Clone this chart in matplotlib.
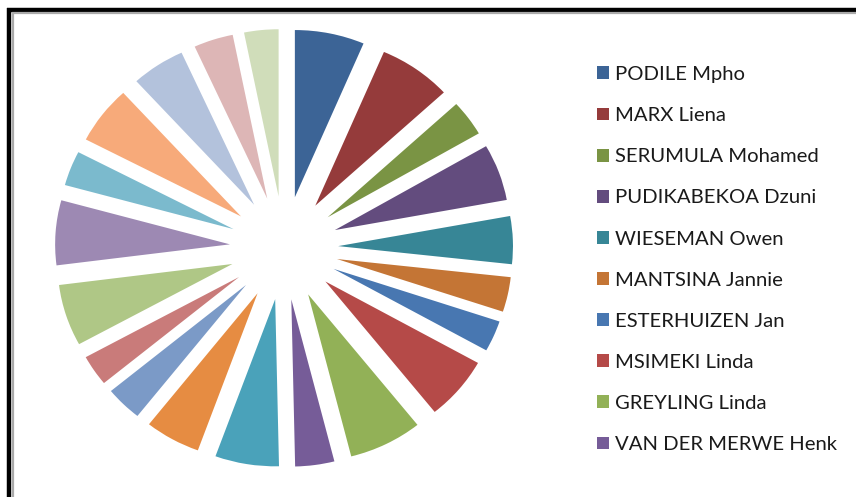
import matplotlib.pyplot as plt
from matplotlib.lines import Line2D

# slice sizes (degrees of the circle), clockwise from 12 o'clock
names = ['PODILE Mpho', 'MARX Liena', 'SERUMULA Mohamed', 'PUDIKABEKOA Dzuni',
         'WIESEMAN Owen', 'MANTSINA Jannie', 'ESTERHUIZEN Jan', 'MSIMEKI Linda',
         'GREYLING Linda', 'VAN DER MERWE Henk',
         'Person 11', 'Person 12', 'Person 13', 'Person 14', 'Person 15',
         'Person 16', 'Person 17', 'Person 18', 'Person 19', 'Person 20', 'Person 21']
values = [23.1, 24.2, 12.5, 19.7, 16.6, 12.1, 10.8, 22.1, 24.4, 13.0,
          21.2, 18.4, 12.2, 10.7, 21.4, 22.5, 12.1, 20.2, 17.8, 13.1, 11.4]
colors = ['#3C6496', '#953B3B', '#7A9444', '#634C7E', '#378696', '#C47535',
          '#4877B1', '#B54A48', '#92B157', '#765C98', '#4AA2BA', '#E68C42',
          '#7B9AC7', '#C97B7A', '#AFC786', '#9D89B3', '#7BBACD', '#F7AA7A',
          '#B3C2DC', '#DDB6B6', '#D0DDBA']
n_legend = 10   # legend in the original is cut off after 10 entries

W, H = 856, 497
fig = plt.figure(figsize=(W / 100, H / 100), dpi=100)

# pie centre (284, 248) px from top-left, slightly wider than tall
cx, cy, rx, ry = 284, 248, 229, 219
ax = fig.add_axes([(cx - rx) / W, (H - cy - ry) / H, 2 * rx / W, 2 * ry / H])
expl = 0.31
wedges, _ = ax.pie(values, colors=colors, startangle=90, counterclock=False,
                   explode=[expl] * len(values),
                   wedgeprops=dict(linewidth=0))
ax.set_aspect('auto')
ax.set_xlim(-1 - expl, 1 + expl)
ax.set_ylim(-1 - expl, 1 + expl)

leg = fig.legend(wedges[:n_legend], names[:n_legend], loc='upper left',
                 bbox_to_anchor=(597 / W, 1 - 66 / H), frameon=False,
                 prop=dict(family='Lato', size=14.6), labelcolor='#1a1a1a',
                 handlelength=0.6, handleheight=0.6, handletextpad=0.3,
                 labelspacing=1.19, borderpad=0, borderaxespad=0)

# outer frame: thick black line on top/left with grey inner line
def px_line(xs, ys, color, lw):
    fig.add_artist(Line2D([x / W for x in xs], [1 - y / H for y in ys],
                          transform=fig.transFigure, color=color, lw=lw,
                          solid_capstyle='butt'))

px_line([7, W], [10, 10], 'black', 3.2)
px_line([9, 9], [8, H], 'black', 3.2)
px_line([12, W], [13, 13], '#AAAAAA', 1.6)
px_line([12.8, 12.8], [12, H], '#AAAAAA', 1.6)

fig.savefig('out.png', dpi=100)
